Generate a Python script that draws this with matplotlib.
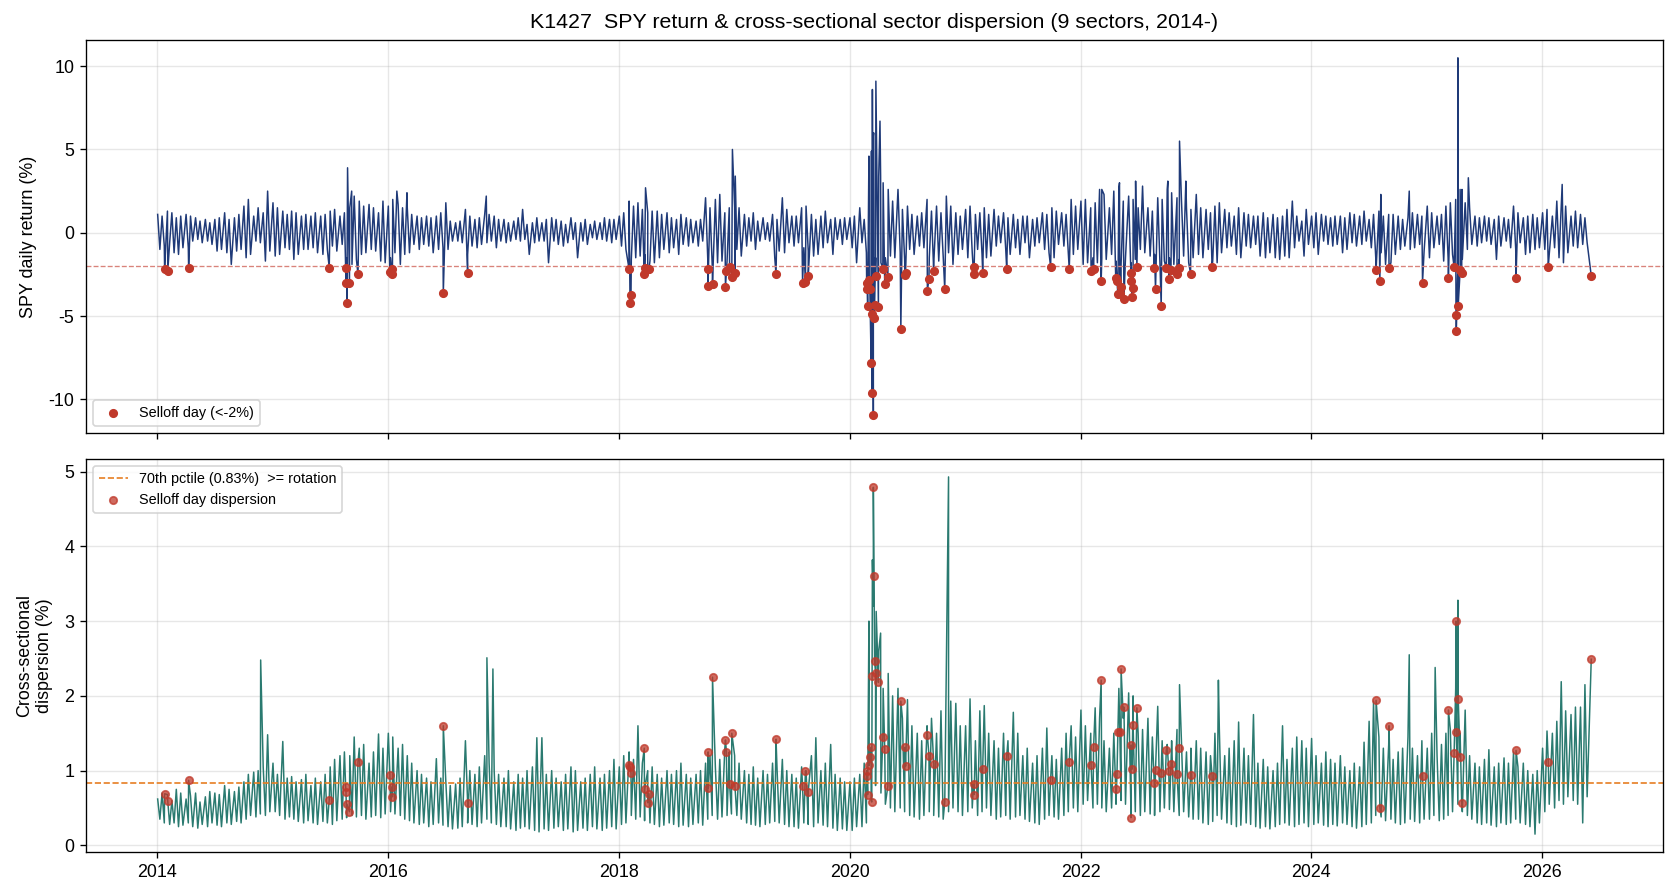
import numpy as np
import pandas as pd
import matplotlib
matplotlib.use('Agg')
import matplotlib.pyplot as plt
import matplotlib.dates as mdates

plt.rcParams['font.family'] = ['Liberation Sans', 'DejaVu Sans']
plt.rcParams['axes.unicode_minus'] = False

# Half-month highs / lows (Jan-a, Jan-b, Feb-a, ...), one year per two rows.
# 2014-01 .. 2026-05
ret_hi = [
    1.1, 1.0, 1.3, 1.2, 0.9, 1.0, 1.1, 1.0, 0.9, 0.7, 0.8, 0.6,
    0.8, 0.9, 1.2, 0.8, 0.9, 1.1, 1.6, 2.0, 1.0, 1.5, 1.2, 2.5,  # 2014
    1.8, 1.5, 1.3, 1.1, 1.3, 1.2, 1.0, 1.1, 1.0, 1.2, 1.0, 1.1,
    1.3, 1.4, 1.0, 1.2, 1.5, 2.2, 1.9, 1.6, 1.7, 1.5, 1.2, 1.9,  # 2015
    1.6, 2.0, 1.7, 1.5, 1.5, 1.1, 1.0, 0.9, 1.0, 0.9, 1.0, 1.2,
    1.8, 0.7, 0.6, 0.7, 1.4, 1.0, 0.8, 0.9, 1.1, 1.1, 1.0, 0.8,  # 2016
    0.8, 0.6, 0.7, 0.9, 1.4, 0.5, 0.6, 0.9, 0.6, 0.8, 0.9, 0.8,
    0.7, 0.5, 0.9, 0.6, 0.6, 0.8, 0.5, 0.7, 0.6, 0.9, 0.8, 0.8,  # 2017
    1.0, 1.2, 1.9, 1.6, 1.8, 1.4, 1.2, 1.3, 1.3, 1.1, 1.2, 0.9,
    0.8, 1.1, 0.9, 0.8, 0.7, 0.8, 2.1, 1.5, 2.0, 2.3, 1.2, 1.5,  # 2018
    1.5, 1.5, 1.1, 0.9, 1.2, 0.7, 0.9, 0.6, 1.1, 0.8, 2.1, 1.4,
    1.0, 1.0, 1.5, 1.6, 1.1, 0.8, 1.0, 1.3, 0.8, 0.9, 0.8, 0.9,  # 2019
    0.9, 1.0, 1.5, 0.8, 4.2, 5.8, 3.4, 3.0, 2.6, 1.9, 2.6, 1.4,
    1.6, 1.1, 1.0, 1.2, 2.0, 1.3, 1.6, 1.2, 2.2, 1.6, 1.2, 1.0,  # 2020
    1.4, 1.6, 1.1, 1.2, 1.5, 1.1, 1.4, 1.0, 1.2, 0.9, 1.1, 0.8,
    1.0, 1.0, 0.8, 0.9, 1.2, 1.1, 1.5, 1.3, 1.2, 1.1, 2.0, 1.6,  # 2021
    1.9, 2.0, 1.5, 1.8, 2.6, 2.3, 1.5, 2.5, 2.7, 1.9, 2.2, 2.0,
    1.5, 2.8, 1.5, 1.3, 2.1, 2.0, 2.6, 2.4, 2.1, 2.0, 1.5, 1.4,  # 2022
    2.3, 1.5, 1.4, 1.2, 1.6, 1.8, 1.4, 1.2, 1.0, 1.5, 1.2, 1.1,
    1.0, 1.0, 1.2, 0.9, 1.1, 0.9, 1.0, 1.4, 1.9, 1.0, 0.7, 1.4,  # 2023
    1.0, 1.2, 1.1, 1.0, 0.9, 1.0, 1.0, 0.9, 1.2, 1.1, 1.0, 1.3,
    0.8, 1.1, 1.3, 1.0, 1.1, 1.1, 1.0, 0.8, 0.9, 1.2, 1.1, 1.0,  # 2024
    1.6, 1.2, 1.0, 1.1, 1.6, 1.8, 2.0, 2.6, 1.8, 1.5, 1.0, 0.9,
    1.0, 0.9, 0.8, 1.0, 0.9, 0.8, 1.6, 1.2, 0.9, 1.0, 1.1, 0.9,  # 2025
    1.2, 1.4, 1.0, 1.9, 1.6, 1.6, 1.0, 1.3, 1.1, 0.9,            # 2026
]
ret_lo = [
    -1.0, -0.8, -0.6, -1.2, -1.3, -0.9, -0.9, -0.5, -0.4, -0.6, -0.5, -0.7,
    -1.1, -1.0, -1.2, -1.9, -1.1, -1.0, -1.5, -1.3, -0.5, -0.6, -1.7, -1.1,
    -1.4, -1.3, -0.9, -1.0, -1.6, -1.3, -1.0, -1.0, -0.9, -1.2, -1.3, -1.0,
    -0.8, -1.1, -0.7, -1.5, -1.9, -1.6, -1.3, -1.2, -1.0, -1.1, -1.7, -1.8,
    -1.5, -1.2, -1.9, -1.3, -1.2, -0.7, -1.0, -0.7, -0.8, -1.2, -1.0, -0.9,
    -1.0, -0.5, -0.5, -0.6, -1.3, -0.8, -0.9, -0.7, -0.6, -0.5, -0.9, -0.5,
    -0.6, -0.5, -0.4, -0.5, -0.4, -1.3, -0.6, -0.5, -0.5, -1.8, -0.5, -0.7,
    -0.8, -0.6, -0.4, -1.5, -0.5, -0.7, -0.3, -0.4, -0.4, -0.5, -0.6, -0.4,
    -0.8, -1.0, -1.6, -1.5, -1.4, -1.3, -1.7, -1.8, -1.5, -1.0, -1.2, -0.9,
    -1.3, -0.7, -0.8, -0.6, -0.8, -0.5, -1.6, -1.9, -1.8, -1.7, -1.7, -1.9,
    -1.0, -1.4, -0.8, -0.5, -1.0, -0.5, -0.4, -0.5, -1.5, -1.1, -1.2, -0.6,
    -0.8, -0.6, -0.9, -1.1, -1.4, -1.3, -0.9, -0.6, -1.3, -0.4, -0.7, -0.4,
    -0.9, -1.8, -0.6, -1.2, -1.9, -1.5, -1.8, -1.5, -1.4, -1.5, -1.2, -1.6,
    -1.0, -1.3, -0.8, -0.9, -1.5, -1.9, -1.7, -1.4, -1.2, -1.9, -1.3, -1.0,
    -1.5, -1.2, -1.0, -1.3, -1.5, -1.4, -0.8, -0.6, -1.0, -1.3, -0.9, -1.3,
    -0.6, -1.5, -0.8, -0.6, -1.0, -1.2, -1.5, -0.7, -0.8, -1.2, -1.3, -1.0,
    -1.9, -1.8, -1.5, -1.8, -1.5, -1.6, -1.3, -1.7, -1.9, -1.5, -1.8, -1.6,
    -1.0, -1.2, -1.4, -1.3, -1.8, -1.7, -1.5, -1.9, -1.6, -1.4, -1.8, -1.5,
    -1.3, -1.5, -1.0, -1.7, -1.8, -1.2, -0.9, -0.8, -1.3, -1.5, -0.8, -0.9,
    -0.7, -1.4, -1.5, -1.2, -1.5, -1.6, -1.4, -1.5, -0.9, -0.5, -1.4, -0.7,
    -0.9, -1.3, -0.5, -0.7, -0.8, -0.7, -1.2, -1.0, -0.6, -0.8, -0.7, -0.5,
    -0.9, -1.5, -1.2, -1.9, -1.8, -1.3, -1.0, -0.8, -1.0, -0.9, -0.7, -1.1,
    -1.5, -0.9, -0.7, -1.7, -1.5, -1.3, -1.9, -1.6, -1.0, -0.7, -0.8, -0.6,
    -0.5, -0.7, -1.6, -0.8, -0.5, -0.9, -1.0, -0.6, -1.3, -1.2, -1.0, -0.9,
    -1.0, -1.3, -0.9, -1.5, -1.8, -1.2, -0.8, -0.9, -0.7, -0.6,
]
disp_hi = [
    0.62, 0.70, 0.68, 0.60, 0.75, 0.70, 0.62, 0.66, 0.70, 0.58, 0.65, 0.72,
    0.70, 0.68, 0.80, 0.75, 0.72, 0.78, 0.85, 0.95, 0.98, 1.00, 1.05, 1.48,
    1.10, 0.95, 1.39, 0.90, 0.92, 0.85, 0.88, 0.95, 0.80, 0.90, 0.85, 0.95,
    1.05, 1.15, 1.20, 1.25, 1.20, 1.45, 1.30, 1.35, 1.10, 1.25, 1.49, 1.30,
    1.50, 1.45, 1.30, 1.35, 1.20, 1.10, 1.00, 0.95, 0.90, 0.85, 1.16, 0.90,
    0.85, 0.80, 0.82, 0.90, 1.40, 1.00, 0.95, 1.05, 1.20, 1.10, 1.00, 0.95,
    0.90, 1.00, 0.85, 0.95, 0.90, 1.00, 1.05, 1.44, 1.44, 0.95, 1.00, 0.90,
    0.85, 0.95, 1.05, 1.00, 0.85, 0.90, 0.95, 1.05, 0.90, 0.95, 1.00, 1.15,
    1.05, 1.20, 1.25, 1.15, 1.60, 1.10, 1.00, 1.05, 0.95, 0.90, 1.00, 0.95,
    1.00, 1.10, 0.95, 0.90, 0.95, 1.00, 1.10, 1.20, 1.05, 1.15, 1.30, 1.25,
    1.20, 1.10, 1.00, 0.95, 1.05, 0.90, 1.00, 0.95, 1.10, 1.05, 1.15, 1.00,
    0.95, 0.90, 1.05, 1.00, 1.20, 1.44, 1.00, 1.10, 1.35, 0.95, 0.90, 0.85,
    0.85, 0.90, 0.95, 1.10, 3.00, 3.20, 2.60, 2.10, 2.30, 2.00, 2.10, 1.70,
    1.95, 1.60, 1.50, 1.40, 1.60, 1.70, 1.50, 1.80, 2.35, 1.93, 1.90, 1.60,
    1.60, 1.96, 1.40, 1.80, 1.87, 1.50, 1.40, 1.30, 1.50, 1.40, 1.78, 1.50,
    1.20, 1.30, 1.10, 1.20, 1.30, 1.57, 1.20, 1.15, 1.30, 1.50, 1.60, 1.45,
    1.81, 1.60, 1.50, 1.84, 1.70, 1.40, 1.30, 1.50, 2.10, 1.70, 2.04, 2.00,
    1.50, 1.55, 1.70, 1.45, 1.86, 1.40, 1.35, 1.40, 1.55, 1.40, 1.25, 1.30,
    1.40, 1.30, 1.25, 1.20, 1.50, 1.55, 1.20, 1.30, 1.40, 1.65, 1.30, 1.20,
    1.75, 1.10, 1.15, 1.05, 1.00, 1.10, 1.60, 1.15, 1.30, 1.45, 1.40, 1.30,
    1.43, 1.20, 1.10, 1.25, 1.15, 1.10, 1.20, 1.05, 1.00, 1.10, 1.05, 1.38,
    1.66, 1.93, 1.45, 1.30, 1.35, 1.15, 1.25, 1.30, 1.45, 1.30, 1.20, 1.40,
    1.30, 1.50, 1.20, 1.35, 1.50, 1.55, 2.10, 1.50, 1.81, 1.20, 1.10, 1.05,
    1.15, 1.28, 1.05, 1.10, 1.17, 1.10, 1.25, 1.05, 1.10, 1.00, 0.95, 1.00,
    1.30, 1.53, 1.50, 1.66, 2.19, 1.80, 1.75, 1.85, 1.85, 2.15,
]
disp_lo = [
    0.35, 0.30, 0.28, 0.30, 0.25, 0.27, 0.30, 0.25, 0.23, 0.28, 0.25, 0.30,
    0.27, 0.25, 0.30, 0.28, 0.32, 0.30, 0.35, 0.40, 0.38, 0.42, 0.40, 0.45,
    0.45, 0.40, 0.35, 0.38, 0.35, 0.32, 0.30, 0.33, 0.30, 0.28, 0.32, 0.30,
    0.28, 0.33, 0.35, 0.37, 0.40, 0.38, 0.40, 0.35, 0.38, 0.40, 0.37, 0.42,
    0.45, 0.42, 0.40, 0.35, 0.33, 0.30, 0.28, 0.30, 0.25, 0.28, 0.30, 0.27,
    0.25, 0.22, 0.23, 0.25, 0.30, 0.28, 0.25, 0.30, 0.35, 0.30, 0.28, 0.25,
    0.25, 0.22, 0.20, 0.23, 0.25, 0.22, 0.20, 0.18, 0.22, 0.20, 0.23, 0.25,
    0.20, 0.22, 0.18, 0.20, 0.23, 0.20, 0.25, 0.22, 0.20, 0.23, 0.25, 0.22,
    0.28, 0.30, 0.40, 0.35, 0.38, 0.33, 0.30, 0.28, 0.25, 0.27, 0.30, 0.28,
    0.25, 0.27, 0.25, 0.28, 0.30, 0.27, 0.35, 0.40, 0.35, 0.38, 0.40, 0.42,
    0.40, 0.35, 0.30, 0.28, 0.27, 0.25, 0.28, 0.30, 0.32, 0.30, 0.28, 0.25,
    0.25, 0.23, 0.30, 0.28, 0.25, 0.30, 0.27, 0.25, 0.23, 0.20, 0.22, 0.20,
    0.20, 0.25, 0.25, 0.30, 0.60, 0.80, 0.70, 0.55, 0.50, 0.45, 0.50, 0.45,
    0.40, 0.38, 0.35, 0.40, 0.45, 0.40, 0.38, 0.35, 0.45, 0.50, 0.45, 0.40,
    0.45, 0.50, 0.40, 0.45, 0.50, 0.40, 0.35, 0.38, 0.40, 0.35, 0.38, 0.40,
    0.35, 0.32, 0.30, 0.28, 0.35, 0.40, 0.38, 0.35, 0.40, 0.45, 0.50, 0.45,
    0.55, 0.60, 0.50, 0.55, 0.50, 0.45, 0.50, 0.55, 0.60, 0.55, 0.50, 0.45,
    0.40, 0.45, 0.42, 0.40, 0.45, 0.50, 0.48, 0.45, 0.40, 0.45, 0.38, 0.35,
    0.35, 0.30, 0.28, 0.32, 0.40, 0.35, 0.30, 0.28, 0.25, 0.27, 0.30, 0.28,
    0.25, 0.23, 0.25, 0.22, 0.25, 0.28, 0.30, 0.27, 0.25, 0.28, 0.30, 0.25,
    0.28, 0.30, 0.27, 0.25, 0.28, 0.26, 0.30, 0.28, 0.25, 0.23, 0.25, 0.28,
    0.30, 0.40, 0.38, 0.33, 0.35, 0.30, 0.28, 0.30, 0.35, 0.32, 0.30, 0.35,
    0.35, 0.40, 0.33, 0.35, 0.40, 0.45, 0.55, 0.45, 0.40, 0.35, 0.30, 0.28,
    0.30, 0.27, 0.25, 0.30, 0.28, 0.30, 0.35, 0.30, 0.28, 0.25, 0.15, 0.30,
    0.45, 0.55, 0.50, 0.60, 0.55, 0.65, 0.60, 0.55, 0.30, 0.65,
]

# Single big up days in SPY
up_dates = ['2015-08-26', '2015-09-08', '2016-01-29', '2016-03-01', '2016-11-07',
            '2018-03-26', '2018-12-26', '2019-01-04', '2020-03-02', '2020-03-10',
            '2020-03-13', '2020-03-17', '2020-03-24', '2020-03-26', '2020-04-06',
            '2020-04-08', '2022-03-09', '2022-05-04', '2022-06-24', '2022-10-04',
            '2022-11-10', '2022-11-30', '2024-08-08', '2024-11-06', '2025-04-09',
            '2025-04-22', '2025-05-12', '2026-03-05']
up_ret = [3.9, 2.5, 2.5, 2.4, 2.2, 2.7, 5.0, 3.4, 4.6, 4.9, 8.6, 6.0, 9.1, 5.8,
          6.7, 3.4, 2.6, 3.0, 3.1, 3.1, 5.5, 3.1, 2.3, 2.5, 10.5, 2.6, 3.3, 2.9]

# Single dispersion spikes (non-selloff days)
spike_dates = ['2014-11-24', '2016-11-09', '2016-11-28', '2020-03-13', '2020-03-25',
               '2020-04-08', '2020-11-09', '2022-11-10', '2023-03-13', '2024-11-06',
               '2025-01-27', '2025-04-09']
spike_disp = [2.48, 2.51, 2.36, 3.82, 3.13, 2.84, 4.93, 2.15, 2.21, 2.55, 2.38, 3.28]

# Selloff days (SPY < -2%): date, return, dispersion
sell_dates = [
    '2014-01-24', '2014-02-03', '2014-04-10', '2015-06-29', '2015-08-20', '2015-08-21',
    '2015-08-24', '2015-09-01', '2015-09-28', '2016-01-07', '2016-01-13', '2016-01-15',
    '2016-06-24', '2016-09-09', '2018-02-02', '2018-02-05', '2018-02-08', '2018-03-22',
    '2018-03-23', '2018-04-02', '2018-04-06', '2018-10-10', '2018-10-11', '2018-10-24',
    '2018-12-04', '2018-12-07', '2018-12-17', '2018-12-24', '2019-01-03', '2019-05-13',
    '2019-08-05', '2019-08-14', '2019-08-23', '2020-02-24', '2020-02-25', '2020-02-27',
    '2020-03-03', '2020-03-05', '2020-03-09', '2020-03-11', '2020-03-12', '2020-03-16',
    '2020-03-18', '2020-03-20', '2020-03-23', '2020-04-01', '2020-04-15', '2020-04-21',
    '2020-05-01', '2020-06-11', '2020-06-24', '2020-06-26', '2020-09-03', '2020-09-08',
    '2020-09-23', '2020-10-28', '2021-01-27', '2021-01-29', '2021-02-25', '2021-05-12',
    '2021-09-28', '2021-11-26', '2022-02-03', '2022-02-11', '2022-03-07', '2022-04-22',
    '2022-04-26', '2022-04-29', '2022-05-05', '2022-05-09', '2022-05-18', '2022-06-09',
    '2022-06-10', '2022-06-13', '2022-06-16', '2022-06-28', '2022-08-22', '2022-08-26',
    '2022-09-13', '2022-09-29', '2022-10-07', '2022-10-14', '2022-11-02', '2022-11-09',
    '2022-12-15', '2023-02-21', '2024-07-24', '2024-08-05', '2024-09-03', '2024-12-18',
    '2025-03-10', '2025-03-28', '2025-04-03', '2025-04-04', '2025-04-10', '2025-04-16',
    '2025-04-21', '2025-10-10', '2026-01-20', '2026-06-05',
]
sell_ret = [
    -2.15, -2.30, -2.10, -2.10, -2.10, -3.00, -4.20, -3.00, -2.50, -2.35, -2.50, -2.15,
    -3.60, -2.40, -2.20, -4.20, -3.75, -2.50, -2.10, -2.20, -2.20, -3.20, -2.20, -3.05,
    -3.25, -2.30, -2.05, -2.65, -2.40, -2.50, -3.00, -2.95, -2.60, -3.35, -3.00, -4.40,
    -2.85, -3.40, -7.80, -4.90, -9.60, -10.95, -5.10, -4.35, -2.60, -4.45, -2.15, -3.05,
    -2.65, -5.75, -2.55, -2.40, -3.50, -2.75, -2.30, -3.40, -2.45, -2.05, -2.40, -2.15,
    -2.05, -2.20, -2.30, -2.15, -2.92, -2.70, -2.90, -3.70, -3.60, -3.25, -4.00, -2.40,
    -2.90, -3.85, -3.30, -2.05, -2.10, -3.40, -4.40, -2.10, -2.80, -2.25, -2.50, -2.10,
    -2.45, -2.04, -2.26, -2.92, -2.10, -3.00, -2.70, -2.06, -4.92, -5.88, -4.38, -2.26,
    -2.42, -2.70, -2.04, -2.58,
]
sell_disp = [
    0.69, 0.59, 0.87, 0.61, 0.78, 0.72, 0.55, 0.45, 1.11, 0.94, 0.78, 0.65,
    1.60, 0.57, 1.07, 1.05, 0.97, 1.30, 0.75, 0.57, 0.69, 1.25, 0.77, 2.25,
    1.41, 1.25, 0.82, 1.50, 0.79, 1.42, 0.79, 0.99, 0.72, 1.00, 0.93, 0.68,
    1.07, 1.18, 1.31, 0.58, 2.26, 4.79, 3.60, 2.46, 2.31, 2.18, 1.45, 1.29,
    0.80, 1.93, 1.31, 1.06, 1.48, 1.20, 1.09, 0.58, 0.82, 0.68, 1.02, 1.19,
    0.88, 1.12, 1.08, 1.31, 2.21, 0.76, 0.95, 1.52, 1.52, 2.36, 1.85, 0.37,
    1.34, 1.02, 1.61, 1.84, 0.83, 1.01, 0.97, 1.27, 0.99, 1.09, 0.95, 1.30,
    0.94, 0.93, 1.94, 0.50, 1.60, 0.93, 1.81, 1.23, 3.00, 1.52, 1.96, 1.18,
    0.57, 1.27, 1.12, 2.49,
]

rotation_cut = 0.83

# ---------------------------------------------------------------------------
anchors = pd.date_range('2014-01-01', periods=len(ret_hi), freq='SMS')


def build(hi, lo, ex_dates, ex_vals):
    d = list(anchors + pd.Timedelta(days=1)) + list(anchors + pd.Timedelta(days=8))
    d += list(pd.to_datetime(ex_dates)) + list(pd.to_datetime(sell_dates))
    v = list(hi) + list(lo) + list(ex_vals)
    return d, v


d1, v1 = build(ret_hi, ret_lo, up_dates, up_ret)
spy = pd.Series(v1 + sell_ret, index=d1).sort_index()
d2, v2 = build(disp_hi, disp_lo, spike_dates, spike_disp)
disp = pd.Series(v2 + sell_disp, index=d2).sort_index()
sd = pd.to_datetime(sell_dates)

fig = plt.figure(figsize=(1676 / 120, 896 / 120), dpi=120)
ax1 = fig.add_axes([0.0513, 0.5167, 0.9409, 0.4387])
ax2 = fig.add_axes([0.0513, 0.0491, 0.9409, 0.4386], sharex=ax1)

ax1.plot(spy.index, spy.values, color='#1f3a78', lw=0.9)
ax1.axhline(-2, color='#d9837b', ls='--', lw=0.8)
ax1.scatter(sd, sell_ret, color='#c0392b', s=20, zorder=3, label='Selloff day (<-2%)')
ax1.set_ylabel('SPY daily return (%)', fontsize=10.7, labelpad=7)
ax1.set_title('K1427  SPY return & cross-sectional sector dispersion (9 sectors, 2014-)',
              fontsize=12.8, pad=7)
ax1.legend(loc='lower left', fontsize=8.6)
ax1.grid(alpha=0.3)
ax1.tick_params(labelbottom=False, labelsize=10.7)

ax2.plot(disp.index, disp.values, color='#2a7a70', lw=0.9)
ax2.axhline(rotation_cut, color='#e67e22', ls='--', lw=1.0,
            label=f'70th pctile ({rotation_cut:.2f}%)  >= rotation')
ax2.scatter(sd, sell_disp, color='#c0392b', s=20, alpha=0.75, zorder=3,
            label='Selloff day dispersion')
ax2.set_ylabel('Cross-sectional\ndispersion (%)', fontsize=10.7, labelpad=7)
ax2.legend(loc='upper left', fontsize=8.6)
ax2.grid(alpha=0.3)
ax2.tick_params(labelsize=10.7)
ax2.xaxis.set_major_locator(mdates.YearLocator(2))
ax2.xaxis.set_major_formatter(mdates.DateFormatter('%Y'))

fig.savefig('out.png', dpi=120)
